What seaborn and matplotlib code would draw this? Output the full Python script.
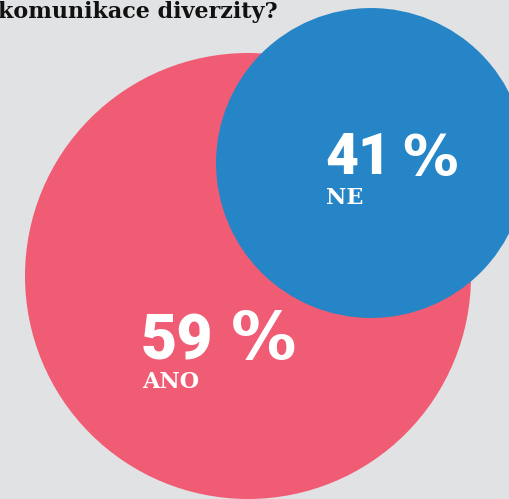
import matplotlib
matplotlib.use("Agg")
import matplotlib.pyplot as plt
import seaborn as sns
import pandas as pd

# Data
categories = ["ANO", "NE"]
values = [59, 41]
value_texts = ["59", "41"]
percent_sign = "%"
title = "komunikace diverzity?"

# Layout (pixels)
W, H, DPI = 509, 499, 100
centers_x = [248, 371]
centers_y = [276, 163]
px_per_percent = 223 / 59
colors = ["#f05c74", "#2685c6"]
bg = "#e1e2e4"

sns.set_theme(style="white")
plt.rcParams['font.family'] = ['DejaVu Serif', 'DejaVu Sans']

fig = plt.figure(figsize=(W / DPI, H / DPI), dpi=DPI, facecolor=bg)
ax = fig.add_axes([0, 0, 1, 1])
ax.set_facecolor(bg)

df = pd.DataFrame({"cat": categories, "val": values, "x": centers_x, "y": centers_y})
for i, row in df.iterrows():
    r_px = row["val"] * px_per_percent
    d_pt = 2 * r_px * 72 / DPI
    sns.scatterplot(data=df.iloc[[i]], x="x", y="y", s=d_pt ** 2, color=colors[i],
                    edgecolor="none", linewidth=0, ax=ax, legend=False, zorder=2 + i)

ax.set_xlim(0, W)
ax.set_ylim(H, 0)
ax.axis("off")

# Labels
num_pos = [(141, 359), (325, 174)]
num_size = [45, 41]
pct_pos = [(231, 359), (402, 174)]
pct_size = [47, 40]
cat_pos = [(142, 388), (326, 204)]
for i in range(2):
    ax.text(num_pos[i][0], num_pos[i][1], value_texts[i], color="white", fontsize=num_size[i],
            fontweight="black", family=["Roboto", "DejaVu Sans"], ha="left", va="baseline",
            zorder=10)
    ax.text(pct_pos[i][0], pct_pos[i][1], percent_sign, color="white", fontsize=pct_size[i],
            fontweight="bold", family=["DejaVu Sans"], ha="left", va="baseline", zorder=10)
    ax.text(cat_pos[i][0], cat_pos[i][1], categories[i], color="white", fontsize=16,
            fontweight="bold", ha="left", va="baseline", zorder=10)

ax.text(-2, 18, title, color="#111111", fontsize=16, fontweight="bold", ha="left",
        va="baseline", zorder=10)

fig.savefig("out.png", dpi=DPI, facecolor=bg)
